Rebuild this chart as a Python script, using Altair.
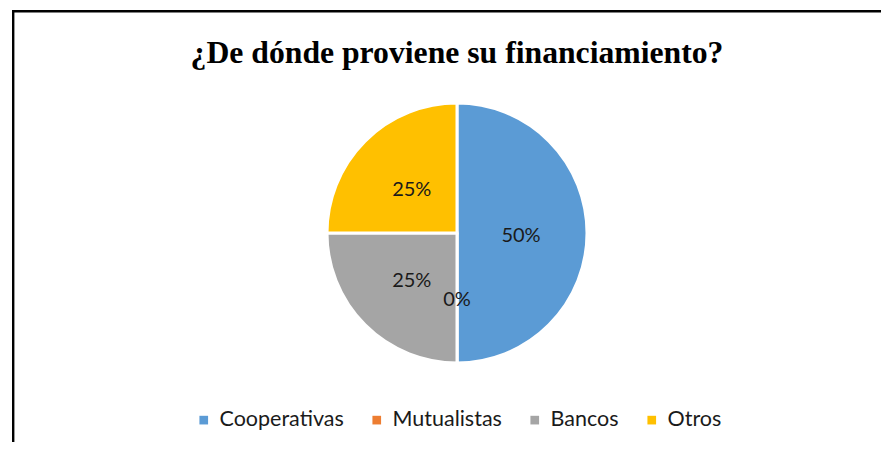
import altair as alt
import pandas as pd

categories = ["Cooperativas", "Mutualistas", "Bancos", "Otros"]
values = [50, 0, 25, 25]
labels = ["50%", "0%", "25%", "25%"]
colors = ["#5B9BD5", "#ED7D31", "#A5A5A5", "#FFC000"]
title_text = "¿De dónde proviene su financiamiento?"

df = pd.DataFrame({
    "category": categories,
    "value": values,
    "label": labels,
    "idx": list(range(len(categories))),
})

W, H = 873, 434
CX, CY = 449, 225

base = alt.Chart(df).encode(
    theta=alt.Theta("value:Q", stack=True),
    order=alt.Order("idx:Q"),
)

pie = base.mark_arc(radius=130, stroke="white", strokeWidth=3).encode(
    x=alt.value(CX), y=alt.value(CY),
    color=alt.Color(
        "category:N",
        scale=alt.Scale(domain=categories, range=colors),
        sort=categories,
        legend=alt.Legend(
            title=None, orient="none", direction="horizontal",
            legendX=185, legendY=401,
            symbolType="square", symbolSize=75, symbolStrokeWidth=0,
            labelFont="Lato", labelFontSize=21.5, labelColor="#1a1a1a",
            labelOffset=5, columnPadding=22, labelLimit=300,
        ),
    ),
)

text = base.mark_text(radius=64, font="Lato", fontSize=20, color="#1a1a1a", dy=2.5).encode(
    x=alt.value(CX), y=alt.value(CY), text="label:N"
)

one = pd.DataFrame({"t": [title_text]})
title = alt.Chart(one).mark_text(
    font="Liberation Serif", fontWeight="bold", fontSize=31.7, color="black",
    baseline="alphabetic", align="center",
).encode(x=alt.value(CX), y=alt.value(55.3), text="t:N")

vline = alt.Chart(one).mark_rule(color="black", strokeWidth=2.4).encode(
    x=alt.value(5.2), y=alt.value(2.0), y2=alt.value(H + 10)
)
hline = alt.Chart(one).mark_rule(color="black", strokeWidth=2.4).encode(
    y=alt.value(3.2), x=alt.value(4.0), x2=alt.value(W + 10)
)

chart = alt.layer(pie, text, title, vline, hline).properties(
    width=W, height=H, autosize="none", padding=0
).configure_view(stroke=None)

chart.save("out.html", embed_options={"renderer": "svg", "actions": False})
